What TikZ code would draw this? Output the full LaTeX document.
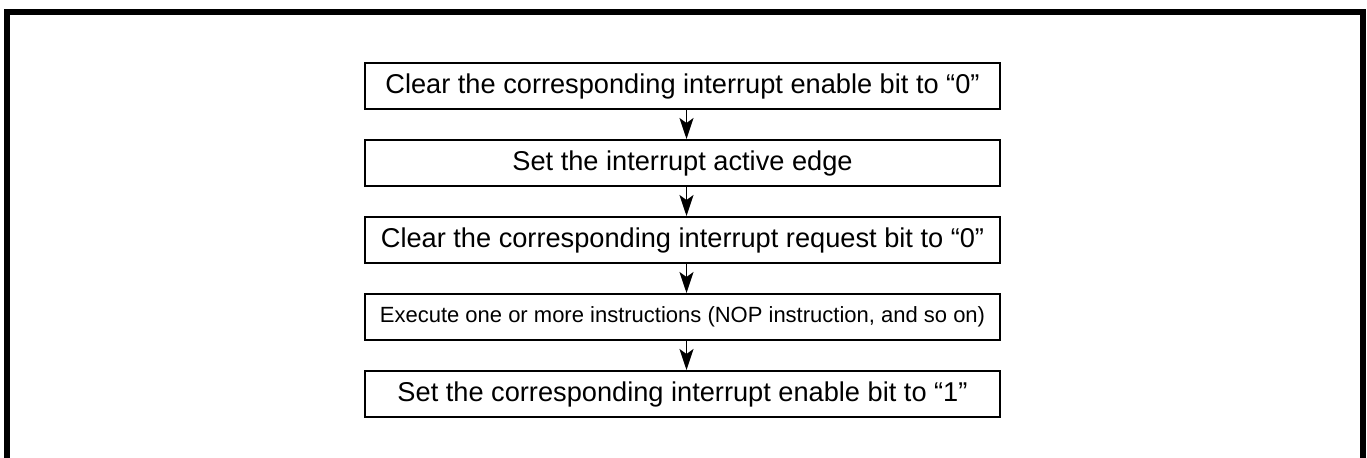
\documentclass[tikz,border=0pt]{standalone}
\usepackage{fontspec}
\setmainfont{Liberation Sans}
\usepackage{tikz}
\usetikzlibrary{positioning, arrows.meta}

\begin{document}
\begin{tikzpicture}[
    x=0.5pt, y=-0.5pt,
    stepbox/.style={draw, line width=1pt, minimum width=317.5pt, minimum height=23pt, inner sep=0pt, align=center, font=\fontsize{13.6}{15}\selectfont},
    arr/.style={-{Stealth[length=10.5pt, width=7pt, inset=2.5pt]}, line width=0.8pt},
    every node/.style={font=\fontsize{13.6}{15}\selectfont}
]
\useasboundingbox (0,0) rectangle (1367,457);

% Outer frame
\draw[line width=3pt] (7,460) -- (7,12) -- (1363,12) -- (1363,460);

% Steps
\node[stepbox] (b1) at (682.5,86) {Clear the corresponding interrupt enable bit to “0”};
\node[stepbox, below=14.5pt of b1] (b2) {Set the interrupt active edge};
\node[stepbox, below=14.5pt of b2] (b3) {Clear the corresponding interrupt request bit to “0”};
\node[stepbox, below=14.5pt of b3, font=\fontsize{11}{13}\selectfont] (b4) {Execute one or more instructions (NOP instruction, and so on)};
\node[stepbox, below=14.5pt of b4] (b5) {Set the corresponding interrupt enable bit to “1”};

% Arrows
\draw[arr] ([xshift=2pt]b1.south) -- ([xshift=2pt]b2.north);
\draw[arr] ([xshift=2pt]b2.south) -- ([xshift=2pt]b3.north);
\draw[arr] ([xshift=2pt]b3.south) -- ([xshift=2pt]b4.north);
\draw[arr] ([xshift=2pt]b4.south) -- ([xshift=2pt]b5.north);

\end{tikzpicture}
\end{document}
